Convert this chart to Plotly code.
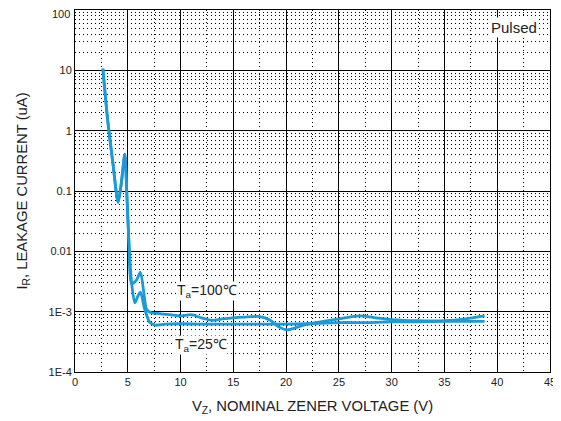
import plotly.graph_objects as go

# ---- data ----
vz_100 = [2.64, 3.1, 3.6, 4.08, 4.4, 4.72, 4.9, 5.1, 5.35, 5.8, 6.2, 6.5, 6.8, 7.3, 8, 9, 10, 11, 12, 13,
          14, 15, 16, 17.5, 18.5, 19.3, 20.1, 21, 22, 23.5, 25, 27, 28.5, 30, 32.5, 35, 37, 38.8]
ir_100 = [10.7, 1.48, 0.28, 0.065, 0.14, 0.41, 0.1, 0.015, 0.0029, 0.0033, 0.0045, 0.0022, 0.00107,
          0.00095, 0.00093, 0.00089, 0.00085, 0.00089, 0.00079, 0.00072, 0.00076, 0.00079, 0.00081,
          0.00083, 0.00072, 0.00056, 0.0005, 0.00055, 0.00062, 0.00069, 0.00076, 0.00085, 0.00079,
          0.00074, 0.00071, 0.00071, 0.00076, 0.00085]

vz_25 = [2.64, 3.1, 3.6, 4.08, 4.4, 4.72, 4.9, 5.1, 5.35, 5.66, 5.95, 6.2, 6.6, 7.1, 7.6, 8.5, 10, 12,
         15, 17.5, 20, 22, 25, 28, 30, 32.5, 35, 37, 38.8]
ir_25 = [10.7, 1.48, 0.28, 0.065, 0.14, 0.41, 0.1, 0.015, 0.0032, 0.0014, 0.0018, 0.0021, 0.0011,
         0.00066, 0.0006, 0.00062, 0.00063, 0.00062, 0.00062, 0.00062, 0.00062, 0.00063, 0.00066,
         0.00066, 0.00068, 0.00068, 0.00069, 0.00069, 0.00069]

x_ticks = [0, 5, 10, 15, 20, 25, 30, 35, 40, 45]
y_tickvals = [1e-4, 1e-3, 1e-2, 1e-1, 1, 10, 100]
y_ticktext = ["1E-4", "1E-3", "0.01", "0.1", "1", "10", ""]
y_top_label = "100"

LINE = "#1b9ad8"
FONT = "Arial, Liberation Sans, sans-serif"
DOT = "1px,3px"
TXT = "#222"

fig = go.Figure()
fig.add_trace(go.Scatter(x=vz_100, y=ir_100, mode="lines", name="Ta=100℃",
                         line=dict(color=LINE, width=2.8, shape="spline", smoothing=0.7)))
fig.add_trace(go.Scatter(x=vz_25, y=ir_25, mode="lines", name="Ta=25℃",
                         line=dict(color=LINE, width=2.8, shape="spline", smoothing=0.7)))

fig.add_annotation(x=12.5, y=-2.66, xref="x", yref="y", text="T<sub>a</sub>=100℃",
                   showarrow=False, xanchor="center", yanchor="middle", bgcolor="white",
                   font=dict(family=FONT, size=14, color=TXT), borderpad=0)
fig.add_annotation(x=11.9, y=-3.56, xref="x", yref="y", text="T<sub>a</sub>=25℃",
                   showarrow=False, xanchor="center", yanchor="middle", bgcolor="white",
                   font=dict(family=FONT, size=14, color=TXT), borderpad=0)
fig.add_annotation(x=41.6, y=1.71, xref="x", yref="y", text="Pulsed",
                   showarrow=False, xanchor="center", yanchor="middle", bgcolor="white",
                   font=dict(family=FONT, size=15, color=TXT), borderpad=1)
# top tick label kept fully inside the page
fig.add_annotation(x=0, y=2, xref="paper", yref="y", text=y_top_label,
                   showarrow=False, xanchor="right", yanchor="top", xshift=-4, yshift=3,
                   font=dict(family=FONT, size=11, color=TXT), borderpad=0)
fig.add_annotation(x=0.47, y=1, xref="paper", yref="paper", text="<b>Typical Leakage Current</b>",
                   showarrow=False, xanchor="center", yanchor="bottom", yshift=0,
                   font=dict(family=FONT, size=15, color=TXT))

fig.update_layout(
    width=553, height=413,
    margin=dict(l=67, r=11, t=2, b=49),
    paper_bgcolor="white", plot_bgcolor="white",
    showlegend=False,
    font=dict(family=FONT, color=TXT),
)
fig.update_xaxes(
    range=[0, 45], tickvals=x_ticks, ticks="", tickfont=dict(size=11, color=TXT),
    automargin=False, ticklabeloverflow="allow",
    showgrid=True, gridcolor="black", gridwidth=1,
    minor=dict(dtick=2.5, tick0=2.5, showgrid=True, gridcolor="black", griddash=DOT, gridwidth=1),
    showline=True, mirror=True, linecolor="black", linewidth=1, zeroline=False,
    title=dict(text="V<sub>Z</sub>, NOMINAL ZENER VOLTAGE (V)", font=dict(size=14.8, color=TXT),
               standoff=13),
)
fig.update_yaxes(
    type="log", range=[-4, 2], tickvals=y_tickvals, ticktext=y_ticktext, ticks="",
    tickfont=dict(size=11, color=TXT), automargin=False, ticklabeloverflow="allow",
    showgrid=True, gridcolor="black", gridwidth=1,
    minor=dict(dtick="D1", showgrid=True, gridcolor="black", griddash=DOT, gridwidth=1),
    showline=True, mirror=True, linecolor="black", linewidth=1, zeroline=False,
    title=dict(text="I<sub>R</sub>, LEAKAGE CURRENT (uA)", font=dict(size=14.8, color=TXT),
               standoff=17),
)

fig.write_html("out.html")
